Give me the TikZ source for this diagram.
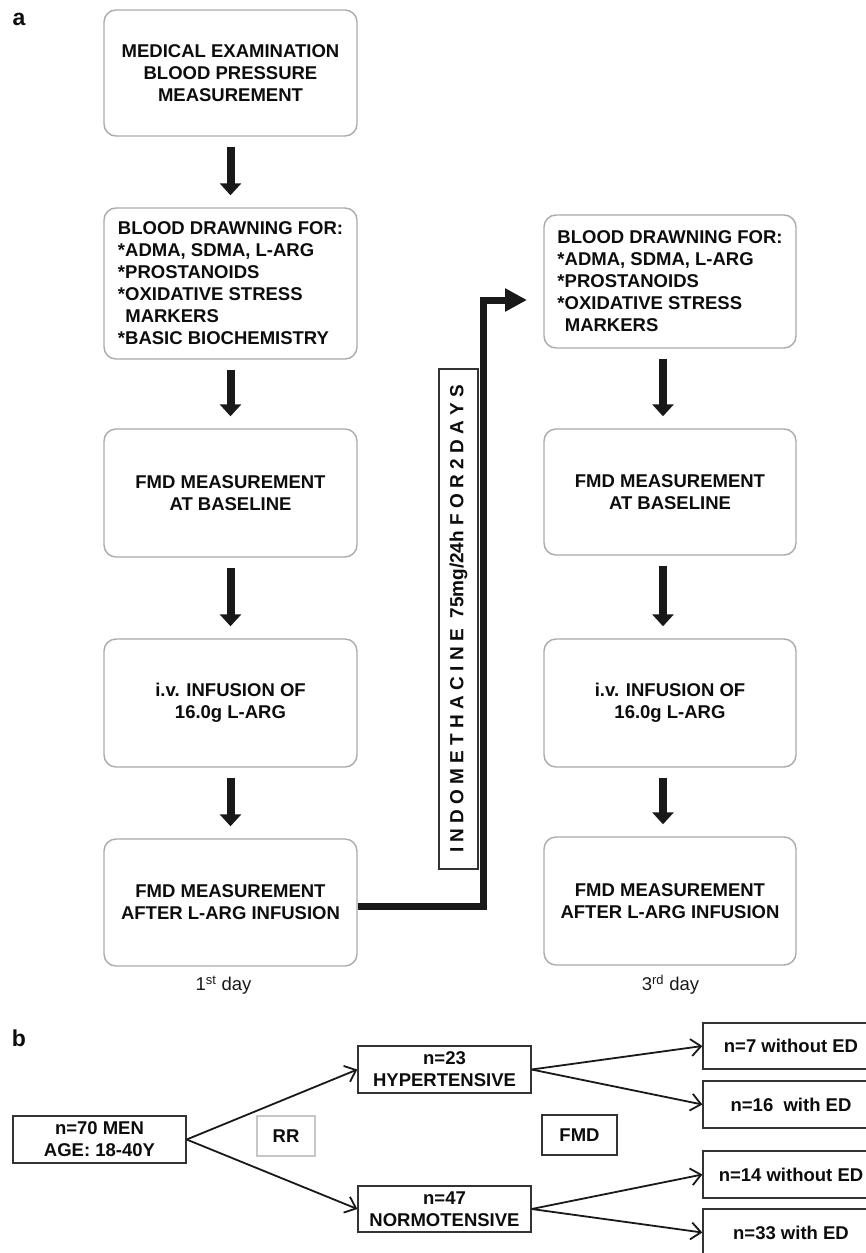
\documentclass[tikz,border=0pt]{standalone}
\usepackage{fontspec}
\setmainfont{Liberation Sans}
\usetikzlibrary{arrows.meta}
\begin{document}
\begin{tikzpicture}[x=1pt,y=-1pt,
  abox/.style={draw=gray!65, line width=1.4pt, rounded corners=12pt, fill=white, inner sep=0pt, align=center, text=black!95, font=\bfseries\fontsize{18.5}{22}\selectfont},
  aleft/.style={abox, align=left},
  bbox/.style={draw=black!80, line width=1.3pt, inner sep=0pt, align=center, text=black!95, font=\bfseries\fontsize{18.5}{22}\selectfont},
  downarrow/.style={line width=8pt, black!90, -{Triangle[length=12pt,width=21pt]}, shorten <=10pt, shorten >=12pt},
  thinarrow/.style={line width=1.8pt, black!90, -{Straight Barb[length=10pt,width=17pt]}},
  daylabel/.style={font=\fontsize{18.5}{22}\selectfont, text=black!90},
  panel/.style={font=\bfseries\fontsize{23}{23}\selectfont, text=black!95}
]
\useasboundingbox[fill=white] (0,0) rectangle (865,1253);

% panel labels
\node[panel] (pa) at (19,19) {a};
\node[panel] (pb) at (19,1038) {b};

% left column
\node[abox, minimum width=253pt, minimum height=126pt] (b1) at (230.5,73) {MEDICAL EXAMINATION\\BLOOD PRESSURE\\MEASUREMENT};
\node[aleft, minimum width=253pt, minimum height=151pt] (b2) at (230.5,283.5) {BLOOD DRAWNING FOR:\\*ADMA, SDMA, L-ARG\\*PROSTANOIDS\\*OXIDATIVE STRESS\\\hspace*{0.4em}MARKERS\\*BASIC BIOCHEMISTRY};
\node[abox, minimum width=253pt, minimum height=128pt] (b3) at (230.5,493) {FMD MEASUREMENT\\AT BASELINE};
\node[abox, minimum width=253pt, minimum height=128pt] (b4) at (230.5,703) {i.v. INFUSION OF\\16.0g L-ARG};
\node[abox, minimum width=253pt, minimum height=127pt] (b5) at (230.5,902.5) {FMD MEASUREMENT\\AFTER L-ARG INFUSION};

% right column
\node[aleft, minimum width=252pt, minimum height=133pt] (r1) at (670,281.5) {BLOOD DRAWNING FOR:\\*ADMA, SDMA, L-ARG\\*PROSTANOIDS\\*OXIDATIVE STRESS\\\hspace*{0.4em}MARKERS};
\node[abox, minimum width=252pt, minimum height=126pt] (r2) at (670,492) {FMD MEASUREMENT\\AT BASELINE};
\node[abox, minimum width=252pt, minimum height=128pt] (r3) at (670,703) {i.v. INFUSION OF\\16.0g L-ARG};
\node[abox, minimum width=252pt, minimum height=128pt] (r4) at (670,901) {FMD MEASUREMENT\\AFTER L-ARG INFUSION};

% arrows left
\draw[downarrow] (b1.south) -- (b2.north);
\draw[downarrow] (b2.south) -- (b3.north);
\draw[downarrow] (b3.south) -- (b4.north);
\draw[downarrow] (b4.south) -- (b5.north);
% arrows right
\draw[downarrow] ([xshift=-7pt]r1.south) -- ([xshift=-7pt]r2.north);
\draw[downarrow] ([xshift=-7pt]r2.south) -- ([xshift=-7pt]r3.north);
\draw[downarrow] ([xshift=-7pt]r3.south) -- ([xshift=-7pt]r4.north);

% indomethacine box and connector
\node[draw=gray!40!black, line width=1.3pt, rotate=90, minimum width=500pt, minimum height=39pt, inner sep=0pt, fill=white, text=black!95, font=\bfseries\fontsize{19}{19}\selectfont] (indo) at (458.5,619) {I N D O M E T H A C I N E\ \ 75mg/24h F O R 2 D A Y S};
\coordinate (bend) at (483,300);
\coordinate (tip) at (527,300);
\draw[line width=7pt, black!90, line join=miter, -{Triangle[length=22pt,width=22pt]}] ([yshift=-3.5pt]b5.east) -- ([yshift=-3.5pt]b5.east -| bend) -- (bend) -- (tip);

% day labels
\node[daylabel] (d1) at (223.5,985) {1\textsuperscript{st} day};
\node[daylabel] (d3) at (670.5,985) {3\textsuperscript{rd} day};

% panel b
\node[bbox, minimum width=173pt, minimum height=47pt] (men) at (99.5,1139.5) {n=70 MEN\\AGE: 18-40Y};
\node[bbox, draw=gray!45, minimum width=58pt, minimum height=40pt] (rr) at (286,1136) {RR};
\node[bbox, minimum width=75pt, minimum height=40pt] (fmd) at (579.5,1135) {FMD};
\node[bbox, minimum width=173pt, minimum height=47pt] (hyp) at (444.5,1069.5) {n=23\\HYPERTENSIVE};
\node[bbox, minimum width=173pt, minimum height=46pt] (nor) at (444.5,1209) {n=47\\NORMOTENSIVE};
\node[bbox, minimum width=176pt, minimum height=46pt] (n7) at (791,1046) {n=7 without ED};
\node[bbox, minimum width=176pt, minimum height=47pt] (n16) at (791,1104.5) {n=16\ \ with ED};
\node[bbox, minimum width=176pt, minimum height=47pt] (n14) at (791,1174.5) {n=14 without ED};
\node[bbox, minimum width=176pt, minimum height=47pt] (n33) at (791,1232.5) {n=33 with ED};

\draw[thinarrow] (men.east) -- (hyp.west);
\draw[thinarrow] (men.east) -- (nor.west);
\draw[thinarrow] (hyp.east) -- (n7.west);
\draw[thinarrow] (hyp.east) -- (n16.west);
\draw[thinarrow] (nor.east) -- (n14.west);
\draw[thinarrow] (nor.east) -- (n33.west);
\end{tikzpicture}
\end{document}
